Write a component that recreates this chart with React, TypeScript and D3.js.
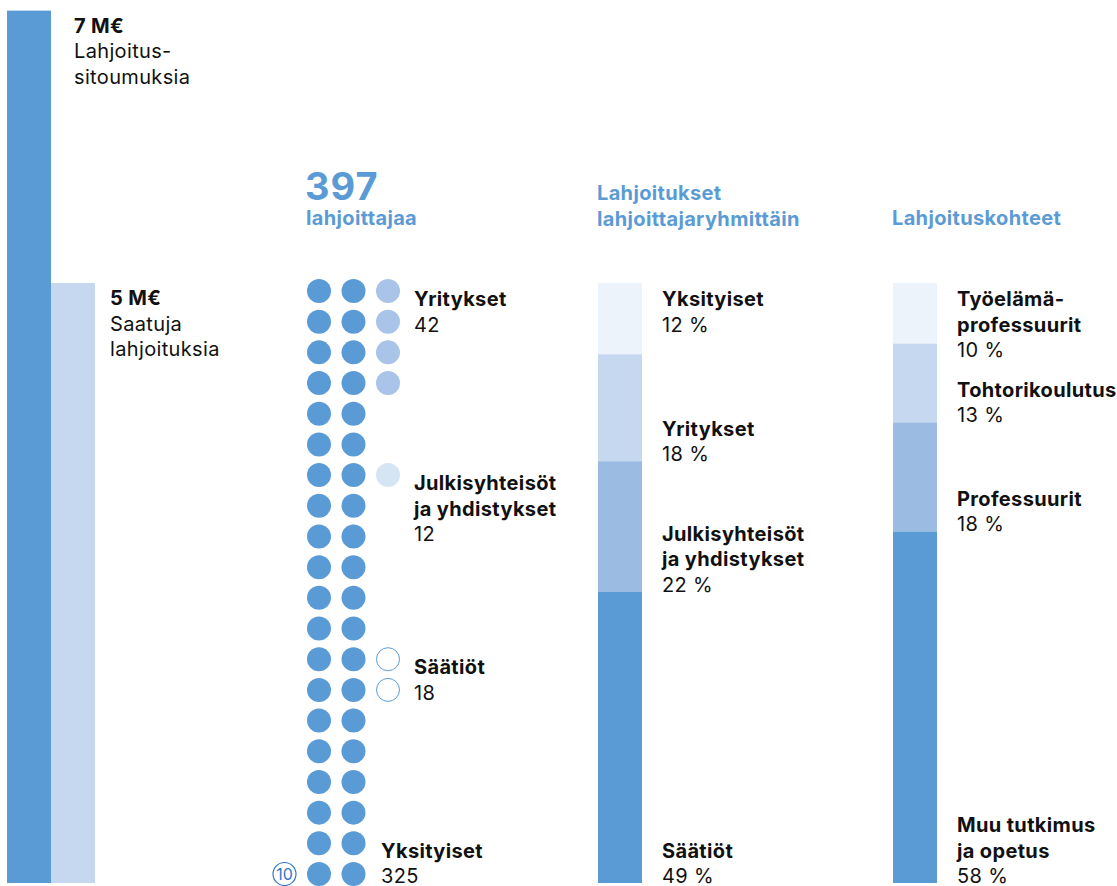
import React from 'react';
import * as d3 from 'd3';

// ---------- DATA ----------
const fundingTitles = ['7 M€', '5 M€'];
const fundingValues = [7.27, 5.0];
const fundingCaptions = [['Lahjoitus-', 'sitoumuksia'], ['Saatuja', 'lahjoituksia']];

const donorTotal = 397;
const donorTotalLabel = 'lahjoittajaa';
const donorGroups = [['Yksityiset'], ['Yritykset'], ['Julkisyhteisöt', 'ja yhdistykset'], ['Säätiöt']];
const donorCounts = [325, 42, 12, 18];
const donorDots = [40, 4, 1, 2];
const dotUnit = 10;

const groupTitle = ['Lahjoitukset', 'lahjoittajaryhmittäin'];
const groupNames = [['Yksityiset'], ['Yritykset'], ['Julkisyhteisöt', 'ja yhdistykset'], ['Säätiöt']];
const groupShares = [12, 18, 22, 49];

const targetTitle = ['Lahjoituskohteet'];
const targetNames = [['Työelämä-', 'professuurit'], ['Tohtorikoulutus'], ['Professuurit'], ['Muu tutkimus', 'ja opetus']];
const targetShares = [10, 13, 18, 58];

// ---------- STYLE ----------
const BLUE = '#5b9bd5';
const MID = '#9bbbe3';
const LIGHT = '#c6d8ef';
const PALE = '#edf3fb';
const TEXT = '#111';
const FONT = 'Inter, "Noto Sans", sans-serif';
const FS = 20;
const LS = 0.35;
const LH = 25.5;
const BOLD = 700;

const W = 1117;
const H = 886;
const BOTTOM = 883;
const TOP5 = 283;

const segColors = [PALE, LIGHT, MID, BLUE];
const dotFills = [BLUE, '#a9c4e8', '#d6e5f4', '#fff'];
const groupStartRow = [0, 6, 12];

function Lines({ x, y, lines, values }: { x: number; y: number; lines: string[]; values?: string }) {
  const all = values ? [...lines, values] : lines;
  return (
    <text x={x} y={y} fontFamily={FONT} fontSize={FS} letterSpacing={LS} fill={TEXT}>
      {all.map((l, i) => (
        <tspan key={i} x={x} y={y + i * LH} fontWeight={values && i === all.length - 1 ? 400 : BOLD}>
          {l}
        </tspan>
      ))}
    </text>
  );
}

function Stacked({ x0, labelX, names, shares }: { x0: number; labelX: number; names: string[][]; shares: number[] }) {
  const total = d3.sum(shares);
  const y = d3.scaleLinear().domain([0, total]).range([TOP5, BOTTOM]);
  const cum = [0, ...Array.from(d3.cumsum(shares))];
  return (
    <g>
      {shares.map((s, i) => (
        <rect key={i} x={x0} width={44} y={y(cum[i])} height={y(cum[i + 1]) - y(cum[i])} fill={segColors[i]} />
      ))}
      {shares.map((s, i) => {
        const nLines = names[i].length + 1;
        const top = y(cum[i]);
        const bottom = y(cum[i + 1]);
        const firstBase = i === 0 ? top + 23 : bottom - (nLines - 1) * LH;
        return <Lines key={i} x={labelX} y={firstBase} lines={names[i]} values={`${s} %`} />;
      })}
    </g>
  );
}

export default function App() {
  const money = d3.scaleLinear().domain([0, 5]).range([0, BOTTOM - TOP5]);
  const barX = d3.scaleBand().domain(['0', '1']).range([7, 95]);

  const col = d3.scaleLinear().domain([0, 2]).range([319, 388]);
  const row = d3.scaleLinear().domain([0, 19]).range([291, 874]);

  const dots: { cx: number; cy: number; g: number }[] = [];
  for (let i = 0; i < donorDots[0]; i++) dots.push({ cx: col(i % 2), cy: row(Math.floor(i / 2)), g: 0 });
  for (let g = 1; g < donorDots.length; g++) {
    for (let k = 0; k < donorDots[g]; k++) dots.push({ cx: col(2), cy: row(groupStartRow[g - 1] + k), g });
  }

  return (
    <svg width={W} height={H} style={{ position: 'absolute', left: 0, top: 0, background: '#fff' }}>
      {/* funding bars */}
      {fundingValues.map((v, i) => {
        const x = barX(String(i))!;
        const top = BOTTOM - money(v);
        const lx = x + barX.bandwidth() + 23 + (i === 0 ? 0 : -8);
        return (
          <g key={i}>
            <rect x={x} width={barX.bandwidth()} y={top} height={money(v)} fill={i === 0 ? BLUE : LIGHT} />
            <text x={lx} y={top + 22} fontFamily={FONT} fontSize={FS} letterSpacing={LS} fill={TEXT}>
              <tspan fontWeight={BOLD}>{fundingTitles[i]}</tspan>
              {fundingCaptions[i].map((c, k) => (
                <tspan key={k} x={lx} dy={LH}>{c}</tspan>
              ))}
            </text>
          </g>
        );
      })}

      {/* donors header */}
      <text x={305} y={200} fontFamily={FONT} fontSize={38} letterSpacing={1} fontWeight={BOLD} fill={BLUE}>{donorTotal}</text>
      <text x={306} y={225} fontFamily={FONT} fontSize={FS} letterSpacing={LS} fontWeight={BOLD} fill={BLUE}>{donorTotalLabel}</text>

      {/* dots */}
      {dots.map((d, i) => (
        <circle
          key={i}
          cx={d.cx}
          cy={d.cy}
          r={d.g === 3 ? 11.5 : 12}
          fill={dotFills[d.g]}
          stroke={d.g === 3 ? BLUE : 'none'}
          strokeWidth={1}
        />
      ))}
      {/* unit legend */}
      <circle cx={col(-1)} cy={row(19)} r={11.5} fill="#fff" stroke="#2f78c8" strokeWidth={1.2} />
      <text x={col(-1)} y={row(19) + 5.5} textAnchor="middle" fontFamily={FONT} fontSize={16} fill="#2f78c8">{dotUnit}</text>

      {/* dot group labels */}
      {[1, 2, 3].map((g) => (
        <Lines key={g} x={414} y={row(groupStartRow[g - 1]) + 15} lines={donorGroups[g]} values={String(donorCounts[g])} />
      ))}
      <Lines x={381} y={row(19) + 9 - LH} lines={donorGroups[0]} values={String(donorCounts[0])} />

      {/* group shares */}
      <text x={597} y={200} fontFamily={FONT} fontSize={FS} letterSpacing={LS} fontWeight={BOLD} fill={BLUE}>
        {groupTitle.map((t, i) => (
          <tspan key={i} x={597} y={200 + i * LH}>{t}</tspan>
        ))}
      </text>
      <Stacked x0={598} labelX={662} names={groupNames} shares={groupShares} />

      {/* targets */}
      <text x={892} y={225} fontFamily={FONT} fontSize={FS} letterSpacing={LS} fontWeight={BOLD} fill={BLUE}>{targetTitle[0]}</text>
      <Stacked x0={893} labelX={957} names={targetNames} shares={targetShares} />
    </svg>
  );
}
